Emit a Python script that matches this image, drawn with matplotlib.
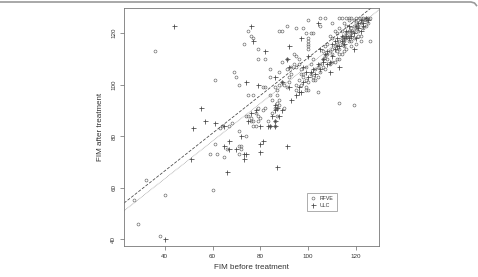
import matplotlib
matplotlib.use("Agg")
import matplotlib.pyplot as plt
from matplotlib.lines import Line2D

plt.rcParams['font.family'] = ['Liberation Sans', 'DejaVu Sans']

# RFVE group (open circles): FIM before, FIM after
rfve = [
    (27, 55), (29, 46), (32, 63), (36, 113), (38, 41), (40, 57), (60, 59), (59, 73),
    (62, 73), (61, 77), (61, 102), (63, 83), (65, 72), (66, 75), (67, 84), (69, 105),
    (70, 103), (71, 100), (71, 82), (71, 73), (72, 75), (72, 76), (74, 80), (73, 116),
    (75, 121), (76, 119), (77, 118), (79, 114), (79, 110), (75, 96), (77, 96), (82, 110),
    (84, 106), (84, 103), (81, 99), (82, 99), (84, 96), (86, 99), (87, 98), (88, 105),
    (88, 121), (89, 121), (91, 123), (89, 109), (91, 110), (95, 122), (98, 122),
    (99, 120), (101, 120), (102, 120), (100, 125), (100, 118), (100, 117), (100, 116),
    (100, 115), (100, 114), (105, 123), (105, 126), (107, 126), (110, 124), (113, 126),
    (114, 126), (117, 126), (104, 97), (113, 93), (119, 92), (126, 117), (90, 91),
    (101, 104), (102, 103), (103, 106), (104, 107), (105, 108), (106, 107), (106, 110),
    (107, 111), (108, 110), (108, 112), (109, 113), (110, 112), (110, 114), (111, 115),
    (112, 113), (112, 116), (113, 117), (113, 114), (114, 116), (114, 118), (115, 117),
    (115, 119), (116, 118), (116, 120), (117, 119), (117, 121), (118, 120), (118, 122),
    (119, 121), (119, 123), (120, 122), (120, 124), (121, 123), (121, 125), (122, 124),
    (122, 126), (123, 125), (123, 126), (124, 125), (124, 126), (125, 126), (125, 124),
    (126, 126), (120, 126), (118, 126), (116, 126), (110, 118), (112, 120), (114, 121),
    (116, 123), (117, 125), (119, 125), (121, 121), (122, 119), (120, 116), (118, 115),
    (116, 114), (114, 112), (112, 110), (111, 109), (109, 108), (107, 106), (105, 105),
    (104, 103), (103, 102), (100, 101), (99, 99), (98, 103), (97, 106), (96, 108),
    (95, 107), (94, 112), (95, 111), (96, 110), (93, 104), (92, 101), (91, 99), (90, 100),
    (89, 101), (88, 94), (87, 93), (86, 91), (85, 94), (91, 106), (93, 107), (97, 104),
    (99, 107), (101, 108), (102, 110), (108, 116), (109, 119), (111, 121), (113, 122),
    (115, 124), (113, 112), (115, 115), (117, 117), (119, 118), (121, 119), (123, 122),
    (124, 123), (122, 117), (107, 115), (106, 113), (110, 109), (113, 110), (115, 113),
    (118, 117), (75, 88), (76, 87), (77, 86), (78, 89), (78, 84), (77, 84), (79, 86),
    (80, 87), (81, 90), (82, 91), (85, 89), (86, 86), (87, 91), (88, 92), (79, 88),
    (86, 84), (87, 88), (83, 86), (84, 84), (74, 88), (76, 86), (79, 91), (87, 96),
    (88, 100), (95, 100), (96, 102), (98, 104), (99, 102), (97, 100), (99, 98),
    (100, 98), (102, 102), (92, 103), (94, 108), (95, 98), (68, 85), (64, 84), (71, 76),
]

# ULC group (plus signs)
ulc = [
    (44, 123), (40, 40), (51, 71), (52, 83), (55, 91), (57, 86), (61, 85), (65, 84),
    (66, 66), (65, 76), (67, 78), (67, 75), (70, 75), (72, 80), (73, 71), (74, 73),
    (73, 73), (74, 101), (76, 123), (77, 117), (79, 100), (80, 84), (80, 74), (80, 77),
    (81, 78), (82, 113), (83, 84), (85, 88), (86, 90), (86, 92), (86, 84), (87, 68),
    (86, 103), (88, 88), (89, 90), (89, 101), (91, 76), (92, 115), (92, 107), (91, 110),
    (92, 99), (93, 94), (95, 96), (96, 97), (97, 97), (97, 118), (100, 111), (98, 107),
    (104, 124), (105, 114), (109, 109), (111, 117), (109, 105), (113, 107), (119, 114),
    (114, 117), (106, 110), (75, 86), (78, 90), (76, 89), (87, 91), (84, 84), (86, 86),
    (102, 106), (104, 108), (106, 109), (107, 112), (108, 113), (110, 111), (111, 114),
    (112, 118), (113, 115), (115, 116), (116, 119), (117, 118), (118, 121), (119, 120),
    (120, 123), (121, 122), (122, 125), (123, 124), (124, 126), (125, 125), (120, 118),
    (118, 119), (116, 121), (115, 118), (112, 115), (110, 116), (108, 108), (105, 106),
    (103, 104), (100, 103), (98, 101), (96, 99), (99, 105), (101, 105), (114, 119),
    (117, 123), (121, 124), (122, 121), (123, 123),
]

# regression lines: (intercept, slope)
fit_dashed = (37.1, 0.734)
fit_dotted = (34.1, 0.733)

fig = plt.figure(figsize=(4.78, 2.77), dpi=100)
ax = fig.add_axes([0.2594, 0.1119, 0.5335, 0.8592])

ax.plot([p[0] for p in rfve], [p[1] for p in rfve], 'o', ms=2.1, mfc='none',
        mec='#666666', mew=0.45, label='RFVE')
ax.plot([p[0] for p in ulc], [p[1] for p in ulc], '+', ms=3.6,
        color='#444444', mew=0.55, label='ULC')

ax.axline((0, fit_dashed[0]), slope=fit_dashed[1], color='#444444', lw=0.55, ls=(0, (4, 2)))
ax.axline((0, fit_dotted[0]), slope=fit_dotted[1], color='#999999', lw=0.55, ls=(0, (1, 1)))

ax.set_xlim(23.0, 129.6)
ax.set_ylim(37.3, 129.8)
ax.set_xticks([40, 60, 80, 100, 120])
ax.set_yticks([40, 60, 80, 100, 120])
ax.tick_params(direction='out', length=3, width=0.5, colors='#666666',
               labelsize=4.5, labelcolor='#333333', pad=2.5)
for lab in ax.get_yticklabels():
    lab.set_rotation(90)
    lab.set_va('center')
for sp in ax.spines.values():
    sp.set_color('#777777')
    sp.set_linewidth(0.6)

ax.set_xlabel('FIM before treatment', fontsize=5.8, color='#333333', labelpad=4)
ax.set_ylabel('FIM after treatment', fontsize=5.8, color='#333333', labelpad=5)

leg = ax.legend(loc='lower left', bbox_to_anchor=(0.718, 0.147), fontsize=3.8,
                frameon=True, fancybox=False, edgecolor='#888888', handlelength=1.2,
                handletextpad=0.6, borderpad=0.6, labelspacing=0.3, borderaxespad=0)
leg.get_frame().set_linewidth(0.6)
for t in leg.get_texts():
    t.set_color('#333333')

# top border of the journal figure frame
W, H = 478.0, 277.0
bx = [0, 471, 474.5, 476.5]
by = [275, 275, 274, 271.5]
fig.add_artist(Line2D([x / W for x in bx], [y / H for y in by], color='#999999',
                      lw=1.2, transform=fig.transFigure))

fig.savefig('out.png', dpi=100)
